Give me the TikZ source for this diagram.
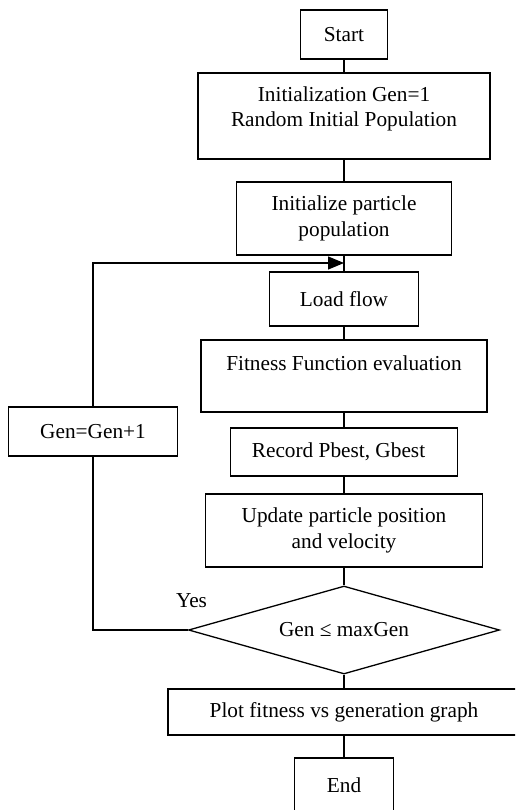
\documentclass[tikz,border=0pt]{standalone}
\usepackage{fontspec}
\setmainfont{Liberation Serif}
\usetikzlibrary{shapes.geometric,arrows.meta}

\begin{document}
\begin{tikzpicture}[x=1pt, y=-1pt, line width=1.3pt,
  box/.style={draw, rectangle, align=center, inner sep=0pt, font=\fontsize{21.3}{25.5}\selectfont},
  test/.style={draw, diamond, aspect=3.5, inner sep=0pt, font=\fontsize{21.3}{25.5}\selectfont}]
  \useasboundingbox (0,0) rectangle (515,810);
  \clip (0,0) rectangle (515,810);
  % main column
  \node[box, minimum width=87, minimum height=49] (start) at (344,34.5) {Start};
  \node[box, minimum width=292, minimum height=86] (init) at (344,116) {Initialization Gen=1\\Random Initial Population\\[-7pt]~};
  \node[box, minimum width=215, minimum height=73] (particle) at (344,218.5) {Initialize particle\\population};
  \node[box, minimum width=149, minimum height=54] (load) at (344,299) {Load flow};
  \node[box, minimum width=286, minimum height=72] (fitness) at (344,376) {Fitness Function evaluation\\~};
  \node[box, minimum width=227, minimum height=48] (record) at (344,452) {Record Pbest, Gbest\hspace{11pt}};
  \node[box, minimum width=277, minimum height=73] (update) at (344,530.5) {Update particle position\\and velocity};
  \node[test, minimum width=311, minimum height=88] (check) at (344,630) {Gen ≤ maxGen};
  \node[box, minimum width=352, minimum height=46] (plot) at (344,712) {Plot fitness vs generation graph};
  \node[box, minimum width=99, minimum height=54] (end) at (344,785) {End};
  % loop back
  \node[box, minimum width=169, minimum height=49] (gen) at (93,431.5) {Gen=Gen+1};
  \node[font=\fontsize{21.3}{25.5}\selectfont] (yes) at (191.5,601) {Yes};
  \coordinate (join) at (344,263);

  \draw (start) -- (init);
  \draw (init) -- (particle);
  \draw (particle) -- (load);
  \draw (load) -- (fitness);
  \draw (fitness) -- (record);
  \draw (record) -- (update);
  \draw (update) -- (check);
  \draw (check) -- (plot);
  \draw (plot) -- (end);
  \draw (check.west) -| (gen);
  \draw[-{Triangle[length=16pt,width=13pt]}] (gen) |- (join);
\end{tikzpicture}
\end{document}
